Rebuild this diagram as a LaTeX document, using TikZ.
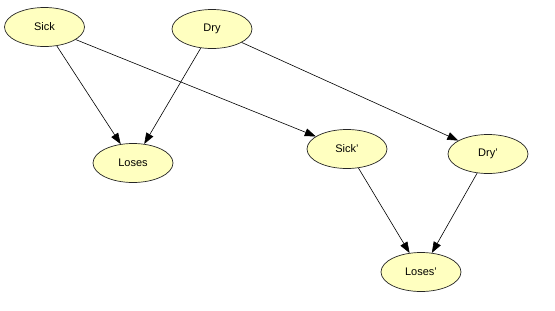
\documentclass[tikz,border=0pt]{standalone}
\usepackage{fontspec}
\setmainfont{Liberation Sans}
\usetikzlibrary{shapes.geometric,arrows.meta}
\definecolor{nodefill}{RGB}{255,255,192}
\tikzset{
  var/.style={ellipse, draw=black!85, fill=nodefill, line width=0.7pt, minimum width=80pt, minimum height=39pt, inner sep=0pt, font=\fontsize{11}{13}\selectfont},
  dep/.style={-{Triangle[length=11pt,width=8pt]}, black, line width=0.6pt}
}
\begin{document}
\begin{tikzpicture}[x=1pt,y=-1pt]
        \useasboundingbox (0,0) rectangle (555,311);
        \node[var] (sick) at (44.5,27) {Sick};
        \node[var] (dry) at (212,29) {Dry};
        \node[var] (loses) at (133,163) {Loses};
        \node[var] (sick2) at (347,149) {Sick'};
        \node[var] (dry2) at (488,154) {Dry'};
        \node[var] (loses2) at (421,272) {Loses'};
        \draw[dep] (sick) -- (loses);
        \draw[dep] (dry) -- (loses);
        \draw[dep] (sick) -- (sick2);
        \draw[dep] (dry) -- (dry2);
        \draw[dep] (sick2) -- (loses2);
        \draw[dep] (dry2) -- (loses2);
    \end{tikzpicture}
\end{document}
